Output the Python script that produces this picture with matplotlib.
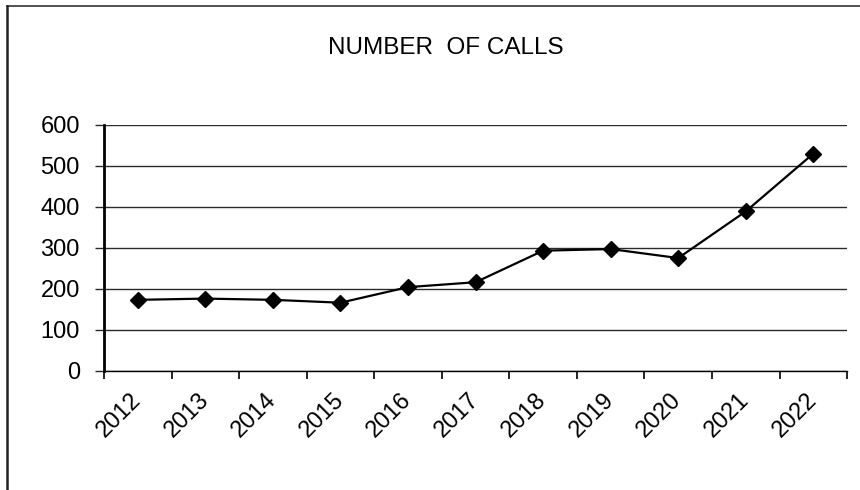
import matplotlib.pyplot as plt
import matplotlib.transforms as mtransforms

plt.rcParams['font.family'] = ['Liberation Sans', 'DejaVu Sans']

# Data
years = ['2012', '2013', '2014', '2015', '2016', '2017',
         '2018', '2019', '2020', '2021', '2022']
calls = [173, 176, 173, 166, 204, 216, 293, 297, 275, 389, 530]
y_ticks = [0, 100, 200, 300, 400, 500, 600]

fig = plt.figure(figsize=(8.6, 4.9), dpi=100)
ax = fig.add_axes([0.121, 0.2435, 0.864, 0.5015])

x = list(range(len(years)))
ax.plot(x, calls, color='black', linewidth=1.6, marker='D', markersize=8,
        markerfacecolor='black', markeredgecolor='black', zorder=3)

ax.set_xlim(-0.5, len(years) - 0.5)
ax.set_ylim(0, 600)
ax.set_yticks(y_ticks)
ax.yaxis.grid(True, color='#2a2a2a', linewidth=1.0)
ax.set_axisbelow(True)

# category ticks sit between the years, like the spreadsheet chart
ax.set_xticks([i - 0.5 for i in range(len(years) + 1)])
ax.set_xticklabels([])
ax.tick_params(axis='x', direction='out', length=6, width=1.2)
ax.tick_params(axis='y', direction='out', length=6.5, width=1.0,
               color='#2a2a2a', labelsize=17, pad=11)

shift = mtransforms.ScaledTranslation(0, -26 / 100, fig.dpi_scale_trans)
for i, yr in enumerate(years):
    ax.text(i, 0, yr, rotation=45, ha='right', va='center',
            rotation_mode='anchor', fontsize=17,
            transform=ax.get_xaxis_transform() + shift)

for side in ['top', 'right']:
    ax.spines[side].set_visible(False)
ax.spines['left'].set_linewidth(2.0)
ax.spines['bottom'].set_linewidth(1.0)

fig.text(0.5186, 0.902, 'NUMBER  OF CALLS', ha='center', va='center',
         fontsize=17.5)

# page frame from the scan (top and left edges)
fig.add_artist(plt.Line2D([0.008, 1.0], [0.988, 0.988], color='#333333',
                          linewidth=1.2, transform=fig.transFigure))
fig.add_artist(plt.Line2D([0.008, 0.008], [0.0, 0.988], color='#222222',
                          linewidth=1.8, transform=fig.transFigure))

fig.savefig('out.png', dpi=100)
